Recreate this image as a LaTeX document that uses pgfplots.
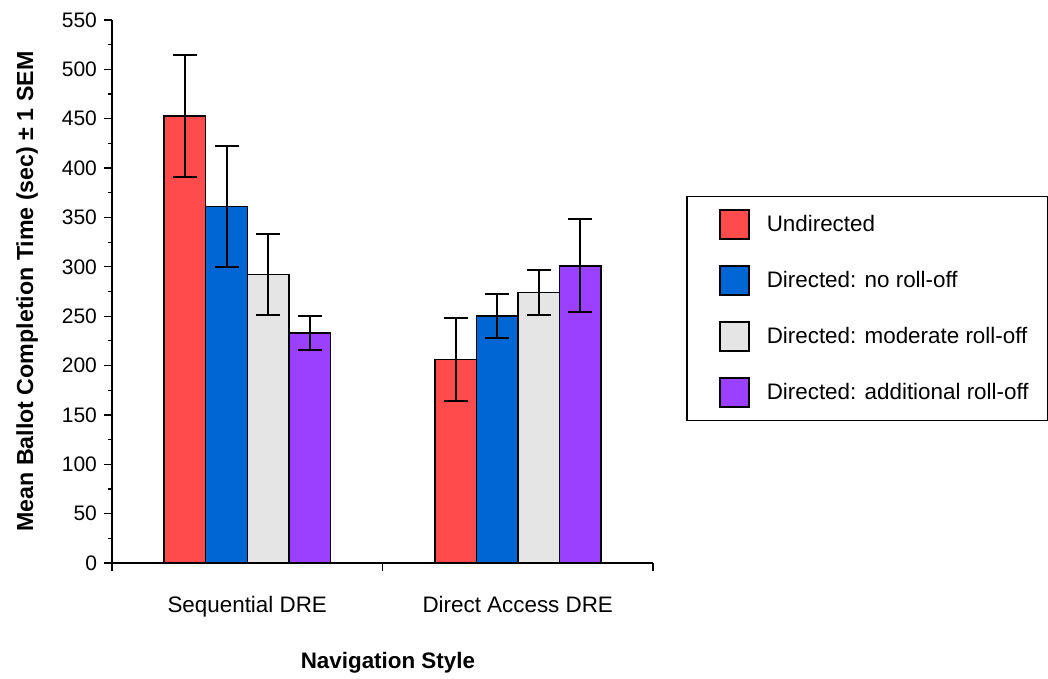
\documentclass[border=0pt]{standalone}
\usepackage{fontspec}
\setmainfont{Liberation Sans}
\usepackage{pgfplots}
\pgfplotsset{compat=1.18}
\usepackage{pgfplotstable}

\definecolor{cRed}{HTML}{FF4B4B}
\definecolor{cBlue}{HTML}{0066D4}
\definecolor{cGrey}{HTML}{E5E5E5}
\definecolor{cPurple}{HTML}{9B40FF}

\pgfplotstableread{
x y e
0 453 62
1 206 42
}\undirected
\pgfplotstableread{
x y e
0 361 61
1 250 22
}\noroll
\pgfplotstableread{
x y e
0 292 41
1 274 23
}\moderate
\pgfplotstableread{
x y e
0 233 17
1 301 47
}\additional

\pgfplotsset{
  mylegend/.style={/pgfplots/legend image code/.code={
    \path[fill=none, draw=none] (0pt,-14pt) rectangle (40pt,14pt);
    \draw[##1, line width=0.75pt, draw=black] (16.5pt,-7.25pt) rectangle (31pt,7.25pt);}},
  mybar/.style={draw=black, line width=0.75pt,
    /pgfplots/error bars/y dir=both, /pgfplots/error bars/y explicit, /pgfplots/error bars/error mark=|,
    /pgfplots/error bars/error bar style={black, line width=1pt},
    /pgfplots/error bars/error mark options={black, mark size=6pt, line width=1pt}},
}

\begin{document}
\begin{tikzpicture}
\begin{axis}[
  scale only axis, width=270.5pt, height=271.5pt,
  xmin=-0.5, xmax=1.5, ymin=0, ymax=550,
  axis lines*=left, axis line style={line width=0.75pt, -},
  ybar=0pt, bar width=20.75pt,
  xtick={-0.5,0.5,1.5}, xticklabels={},
  extra x ticks={0,1},
  extra x tick labels={Sequential DRE, Direct Access DRE},
  extra x tick style={major tick length=0pt, tick label style={yshift=-13pt, font=\fontsize{11.2}{13}\selectfont}},
  ytick distance=50, minor y tick num=1,
  tick align=outside, major tick length=4pt, minor tick length=2pt,
  tick style={black, line width=0.6pt},
  /pgf/number format/assume math mode=true,
  yticklabel style={font=\fontsize{10.5}{12}\selectfont},
  ylabel={Mean Ballot Completion Time (sec) ± 1 SEM},
  ylabel style={at={(axis description cs:-0.157,0.5)}, anchor=center, font=\bfseries\fontsize{11.6}{13}\selectfont},
  xlabel={Navigation Style},
  xlabel style={at={(axis description cs:0.51,-0.184)}, anchor=center, font=\bfseries\fontsize{11.2}{13}\selectfont},
  legend style={at={(1.061,0.676)}, anchor=north west, draw=black, line width=0.75pt,
    inner sep=0pt, column sep=0pt, row sep=0pt,
    nodes={inner sep=0pt, anchor=west, font=\fontsize{11.2}{13}\selectfont}},
]
\addplot[fill=cRed, mylegend, mybar] table[x=x, y=y, y error=e] {\undirected};
\addlegendentry{\makebox[140.5pt][l]{Undirected}}
\addplot[fill=cBlue, mylegend, mybar] table[x=x, y=y, y error=e] {\noroll};
\addlegendentry{\makebox[140.5pt][l]{Directed: no roll-off}}
\addplot[fill=cGrey, mylegend, mybar] table[x=x, y=y, y error=e] {\moderate};
\addlegendentry{\makebox[140.5pt][l]{Directed: moderate roll-off}}
\addplot[fill=cPurple, mylegend, mybar] table[x=x, y=y, y error=e] {\additional};
\addlegendentry{\makebox[140.5pt][l]{Directed: additional roll-off}}
\end{axis}
\pgfresetboundingbox
\path[use as bounding box] (-56pt,-58pt) rectangle (468pt,281.5pt);
\end{tikzpicture}
\end{document}
